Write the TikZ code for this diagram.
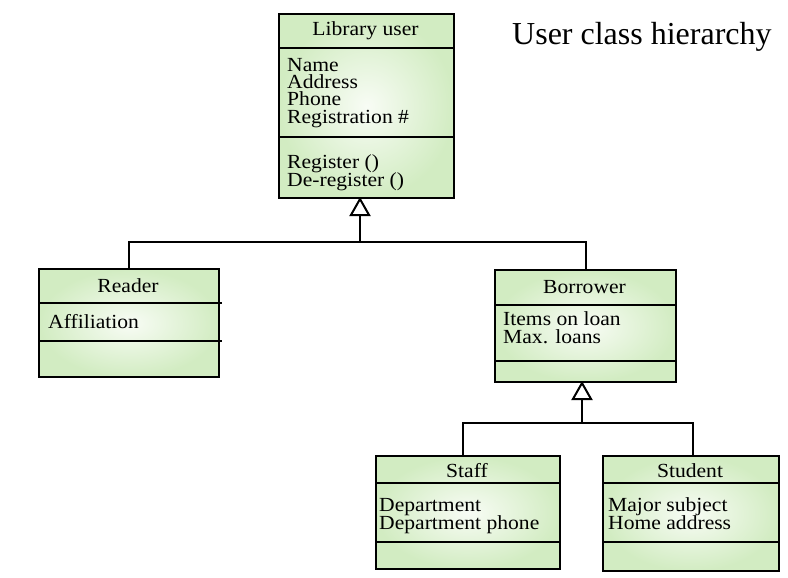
\documentclass[tikz,border=0pt]{standalone}
\usepackage{fontspec}
\setmainfont{Liberation Serif}
\newfontfamily\boxfont{Liberation Serif}[FakeStretch=1.08]
\usetikzlibrary{arrows.meta,calc}
\definecolor{clsout}{HTML}{D2ECC2}
\definecolor{clsin}{HTML}{F8FCF5}
\newcommand\boxfnt[1]{\boxfont\fontsize{20}{#1}\selectfont\lineskiplimit=-50pt\lineskip=0pt}
\newcommand\firstln{\rule{0pt}{15pt}}
\tikzset{
  cls/.style={draw, line width=2.4pt, shading=radial, inner color=clsin, outer color=clsout,
    anchor=north west, inner sep=0pt},
  div/.style={line width=2.4pt},
  conn/.style={line width=2pt},
  gen/.style={-{Triangle[open, width=21pt, length=19pt, line width=2pt]}},
  hd/.style={anchor=base, inner sep=0pt, text height=11pt, text depth=3pt, font=\boxfnt{18}},
  tx/.style={anchor=north west, inner sep=0pt, align=left, font=\boxfnt{18}},
}
\begin{document}
\begin{tikzpicture}[x=1pt,y=-1pt]
\useasboundingbox (0,0) rectangle (788,578);
% Library user
\node[cls, minimum width=175pt, minimum height=184pt] (lib) at (278,13) {};
\draw[div] (278,48) -- (453,48);
\draw[div] (278,137) -- (453,137);
\node[hd] (libh) at (365.5,36) {Library user};
\node[tx, font=\boxfnt{17.3}] (libattr) at (287,56) {\firstln Name\\Address\\Phone\\Registration \#};
\node[tx] (libops) at (287,153) {\firstln Register ()\\De-register ()};
% Reader
\node[cls, minimum width=180pt, minimum height=108pt] (reader) at (38,268) {};
\draw[div] (38,303) -- (222,303);
\draw[div] (38,341) -- (222,341);
\node[hd] (readerh) at (128,292) {Reader};
\node[tx] (readerattr) at (48,313) {\firstln Affiliation};
% Borrower
\node[cls, minimum width=181pt, minimum height=112pt] (borrower) at (494,269) {};
\draw[div] (494,305) -- (675,305);
\draw[div] (494,361) -- (675,361);
\node[hd] (borrowerh) at (584.5,293) {Borrower};
\node[tx] (borrowerattr) at (503,310) {\firstln Items on loan\\Max. loans};
% Staff
\node[cls, minimum width=184pt, minimum height=113pt] (staff) at (375,455) {};
\draw[div] (375,483) -- (559,483);
\draw[div] (375,542) -- (559,542);
\node[hd] (staffh) at (467,477) {Staff};
\node[tx] (staffattr) at (379,496) {\firstln Department\\Department phone};
% Student
\node[cls, minimum width=176pt, minimum height=115pt] (student) at (602,455) {};
\draw[div] (602,483) -- (778,483);
\draw[div] (602,542) -- (778,542);
\node[hd] (studenth) at (690,477) {Student};
\node[tx] (studentattr) at (608,496) {\firstln Major subject\\Home address};
% Title
\node[anchor=base west, inner sep=0pt, font=\fontsize{32}{36}\selectfont] (title) at (512,45) {User class hierarchy};
% Connectors
\coordinate (j1) at (360,242);
\coordinate (libb) at (360,197);
\draw[conn] (reader.north) |- (j1) -| (borrower.north);
\draw[conn, gen] (j1) -- (libb);
\coordinate (j2) at (582,423);
\coordinate (borb) at (582,381);
\draw[conn] ([xshift=-5pt]staff.north) |- (j2) -| ([xshift=2pt]student.north);
\draw[conn, gen] (j2) -- (borb);
\end{tikzpicture}
\end{document}
